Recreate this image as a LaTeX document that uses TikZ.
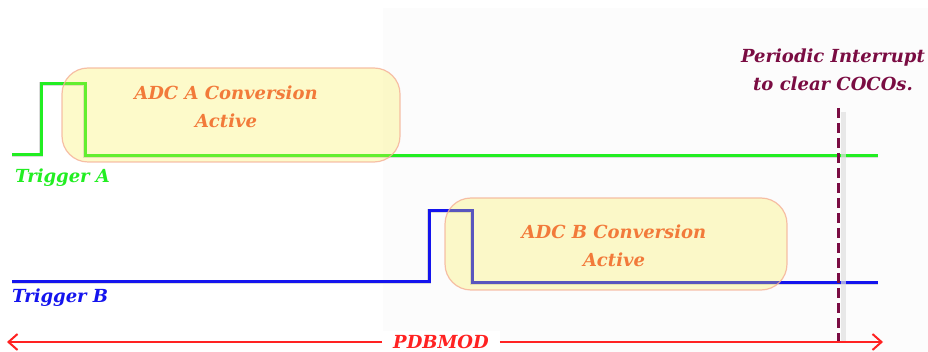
\documentclass[tikz,border=0pt]{standalone}
\usepackage{fontspec}
\setmainfont{DejaVu Serif}
\usetikzlibrary{arrows.meta}
\definecolor{trigA}{HTML}{22EE22}
\definecolor{trigB}{HTML}{1414EE}
\definecolor{spanred}{HTML}{FF2222}
\definecolor{irqcol}{HTML}{7A0C42}
\definecolor{convtxt}{HTML}{F27A3A}
\definecolor{convfill}{HTML}{FAF050}
\definecolor{convedge}{HTML}{F5B096}
\definecolor{panel}{HTML}{FCFCFC}
\tikzset{
  lbl/.style={font=\bfseries\itshape\fontsize{18}{28}\selectfont, inner sep=0pt},
  convbox/.style={draw=convedge, line width=1.2pt, fill=convfill, fill opacity=0.3,
    draw opacity=0.8, rounded corners=26pt, inner sep=0pt},
  convtext/.style={lbl, text=convtxt, align=center},
  wave/.style={line width=3pt, line join=miter},
  shade/.style={line width=4.5pt, draw=black!20, opacity=0.7, line join=miter}
}
\begin{document}
\begin{tikzpicture}[x=1pt, y=-1pt]
  \useasboundingbox (0,0) rectangle (928,352);
  \fill[white] (0,0) rectangle (928,352);
  % faint right-hand panel
  \fill[panel] (383,8) rectangle (928,352);

  % waveform corners
  \coordinate (a0) at (12,155); \coordinate (a1) at (41,155);
  \coordinate (a2) at (41,84);  \coordinate (a3) at (85,84);
  \coordinate (a4) at (85,156); \coordinate (a5) at (878,156);
  \coordinate (b0) at (12,282); \coordinate (b1) at (429,282);
  \coordinate (b2) at (429,211); \coordinate (b3) at (472,211);
  \coordinate (b4) at (472,283); \coordinate (b5) at (878,283);

  % soft drop shadows under the traces
  \begin{scope}[shift={(5,5)}]
    \draw[shade] (a0) -- (a1) -- (a2) -- (a3) -- (a4) -- (a5);
    \draw[shade] (b0) -- (b1) -- (b2) -- (b3) -- (b4) -- (b5);
  \end{scope}

  % trigger traces
  \draw[wave, trigA] (a0) -- (a1) -- (a2) -- (a3) -- (a4) -- (a5);
  \draw[wave, trigB] (b0) -- (b1) -- (b2) -- (b3) -- (b4) -- (b5);

  % conversion windows
  \node[convbox, minimum width=338pt, minimum height=94pt] (convA) at (231,115) {};
  \node[convtext] (txtA) at (226,107) {ADC A Conversion\\Active};
  \node[convbox, minimum width=342pt, minimum height=92pt] (convB) at (616,244) {};
  \node[convtext] (txtB) at (614,246) {ADC B Conversion\\Active};

  % trigger labels
  \node[lbl, text=trigA, anchor=west] (labA) at (15,178) {Trigger A};
  \node[lbl, text=trigB, anchor=west] (labB) at (12,298) {Trigger B};

  % periodic interrupt marker
  \node[lbl, text=irqcol, align=center] (irq) at (833,70) {Periodic Interrupt\\to clear COCOs.};
  \coordinate (irqtop) at (838,108);
  \coordinate (irqbot) at (838,343);
  \draw[black!12, line width=5pt, opacity=0.7]
    ([xshift=5pt,yshift=-4pt]irqtop) -- ([xshift=5pt]irqbot);
  \draw[irqcol, line width=3pt, dash pattern=on 10pt off 5pt] (irqtop) -- (irqbot);

  % PDBMOD span
  \coordinate (spanL) at (7,342);
  \coordinate (spanR) at (883,342);
  \node[lbl, text=spanred, fill=white, inner xsep=11pt, inner ysep=4pt] (pdb) at (441,342) {PDBMOD};
  \draw[spanred, line width=2pt, -{Straight Barb[length=9pt,width=16pt,line width=2pt]}]
    (pdb.east) -- (spanR);
  \draw[spanred, line width=2pt, -{Straight Barb[length=9pt,width=16pt,line width=2pt]}]
    (pdb.west) -- (spanL);
\end{tikzpicture}
\end{document}
